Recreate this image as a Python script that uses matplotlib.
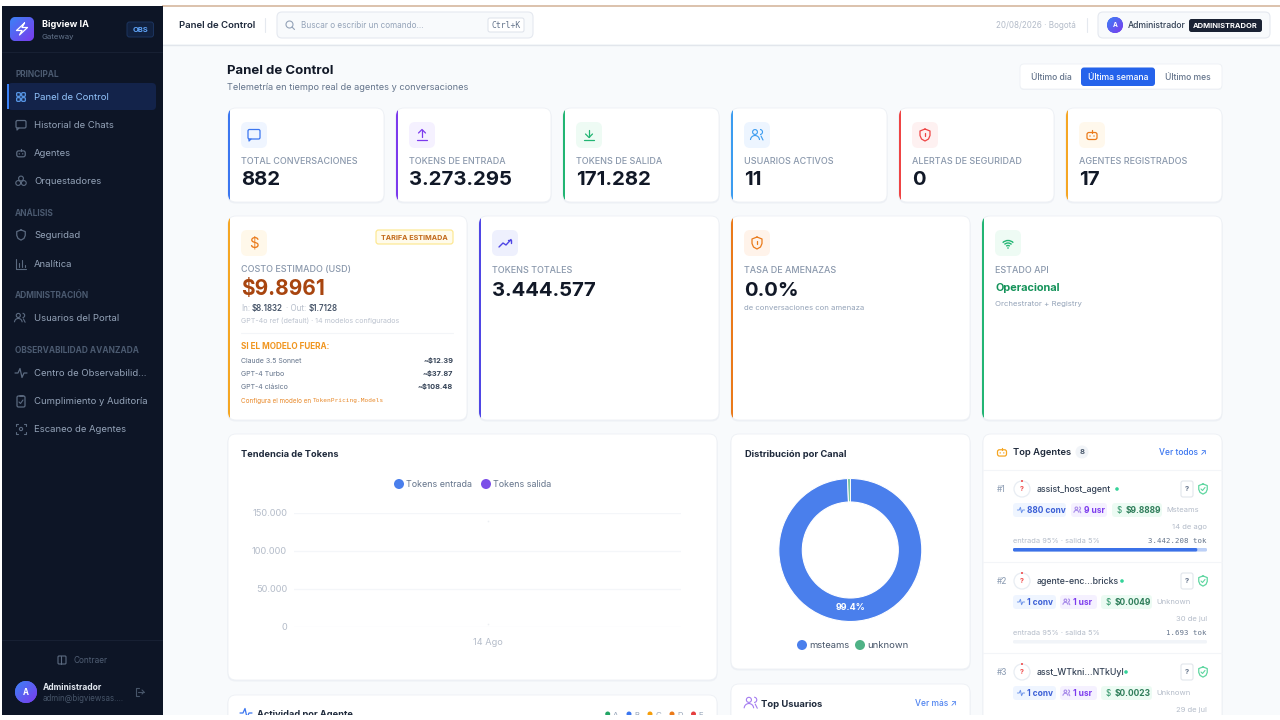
import numpy as np
import matplotlib
matplotlib.use('Agg')
import matplotlib.pyplot as plt
from matplotlib.patches import FancyBboxPatch, Rectangle, Circle, Arc

plt.rcParams['font.family'] = ['Inter', 'DejaVu Sans']

# --- data ---
nav_sections = ['PRINCIPAL', 'ANÁLISIS', 'ADMINISTRACIÓN', 'OBSERVABILIDAD AVANZADA']
nav_items = ['Panel de Control', 'Historial de Chats', 'Agentes', 'Orquestadores', 'Seguridad',
             'Analítica', 'Usuarios del Portal', 'Centro de Observabilid...',
             'Cumplimiento y Auditoría', 'Escaneo de Agentes']
periods = ['Último día', 'Última semana', 'Último mes']

kpi_labels = ['TOTAL CONVERSACIONES', 'TOKENS DE ENTRADA', 'TOKENS DE SALIDA',
              'USUARIOS ACTIVOS', 'ALERTAS DE SEGURIDAD', 'AGENTES REGISTRADOS']
kpi_values = ['882', '3.273.295', '171.282', '11', '0', '17']

model_names = ['Claude 3.5 Sonnet', 'GPT-4 Turbo', 'GPT-4 clásico']
model_costs = ['~$12.39', '~$37.87', '~$108.48']

trend_dates = ['14 Ago']
tokens_in = [139000]
tokens_out = [4000]
trend_ticks = [0, 50000, 100000, 150000]
trend_ticklabels = ['0', '50.000', '100.000', '150.000']

channels = ['msteams', 'unknown']
channel_share = [99.4, 0.6]

agent_names = ['assist_host_agent', 'agente-enc...bricks', 'asst_WTkni...NTkUyI']
agent_conv = ['880 conv', '1 conv', '1 conv']
agent_users = ['9 usr', '1 usr', '1 usr']
agent_cost = ['$9.8889', '$0.0049', '$0.0023']
agent_channel = ['Msteams', 'Unknown', 'Unknown']
agent_dates = ['14 de ago', '30 de jul', '29 de jul']
agent_tokens = [3442208, 1693, 0]
agent_tokens_txt = ['3.442.208 tok', '1.693 tok', '']
agent_in_share = [0.95, 0.95, 0.95]

activity_keys = ['A', 'B', 'C', 'D', 'E']

# --- colours ---
BLUE = '#3b76f0'
PURPLE = '#7c3aed'
GREEN = '#22b573'
ORANGE = '#ea7a1a'
AMBER = '#f5a623'
RED = '#ef4444'
INK = '#111827'
SLATE = '#64748b'
MUTED = '#94a3b8'
FAINT = '#b4bcc9'
EDGE = '#edf0f5'
LABEL = '#8a98ac'

fig = plt.figure(figsize=(12.8, 7.2), dpi=100, facecolor='white')
ax = fig.add_axes([0, 0, 1, 1])
ax.set_axis_off()


def rbox(x0, y0, x1, y1, r=4, fc='white', ec='none', lw=0.8, z=2):
    p = FancyBboxPatch((x0, y0), x1 - x0, y1 - y0, boxstyle=f'round,pad=0,rounding_size={r}',
                       fc=fc, ec=ec, lw=lw, zorder=z)
    ax.add_patch(p)
    return p


def txt(x, y, s, px=10, c=INK, w='normal', ha='left', fam=None, z=6):
    kw = {'family': fam} if fam else {}
    # text sat a little high with va=center, nudge by size
    return ax.text(x, y + 0.4 + 0.06 * px, s, fontsize=px * 0.72, color=c, fontweight=w, ha=ha,
                   va='center', zorder=z, **kw)


def line(xs, ys, c, lw=1.0, z=6):
    ax.plot(xs, ys, color=c, lw=lw, solid_capstyle='round', solid_joinstyle='round', zorder=z)


def dot(x, y, r, c, z=6, ec='none', lw=0.8):
    p = Circle((x, y), r, fc=c, ec=ec, lw=lw, zorder=z)
    ax.add_patch(p)
    return p


grad_cmap = matplotlib.colors.LinearSegmentedColormap.from_list('g', ['#3b82f6', '#7c3aed'])


def gradient(x0, y0, x1, y1, clip, z=5):
    g = np.linspace(0, 1, 32)[None, :] + np.linspace(0, 1, 32)[:, None]
    im = ax.imshow(g, extent=(x0, x1, y1, y0), cmap=grad_cmap, aspect='auto', zorder=z)
    im.set_clip_path(clip)


def card(x0, y0, x1, y1, accent=None, r=8):
    rbox(x0 - 0.5, y0 + 1.0, x1 + 0.5, y1 + 1.5, r, fc='#eef1f5', z=1.5)
    p = rbox(x0, y0, x1, y1, r, fc='white', ec=EDGE, lw=0.6)
    if accent:
        s = Rectangle((x0, y0), 2.2, y1 - y0, fc=accent, ec='none', zorder=3)
        ax.add_patch(s)
        s.set_clip_path(p)
    return p


# small line icons, cx/cy is the middle
def ic_chat(x, y, c, s=6):
    rbox(x - s, y - s + 0.5, x + s, y + s - 2, 1.5, fc='none', ec=c, lw=0.9, z=6)
    line([x - s + 1, x - s + 1, x - s + 3], [y + s - 2, y + s, y + s - 2], c, 0.9)


def ic_up(x, y, c):
    line([x, x], [y - 5, y + 2], c, 0.9)
    line([x - 3.5, x, x + 3.5], [y - 2, y - 5.5, y - 2], c, 0.9)
    line([x - 5, x + 5], [y + 5, y + 5], c, 0.9)


def ic_down(x, y, c):
    line([x, x], [y - 5.5, y + 2], c, 0.9)
    line([x - 3.5, x, x + 3.5], [y - 1, y + 2.5, y - 1], c, 0.9)
    line([x - 5, x + 5], [y + 5, y + 5], c, 0.9)


def ic_users(x, y, c, s=1.0):
    ax.add_patch(Circle((x - 2 * s, y - 3 * s), 2.4 * s, fc='none', ec=c, lw=0.8, zorder=6))
    ax.add_patch(Arc((x - 2 * s, y + 5 * s), 9 * s, 9 * s, theta1=180, theta2=360, ec=c, lw=0.8, zorder=6))
    ax.add_patch(Arc((x + 3 * s, y - 3 * s), 5 * s, 5 * s, theta1=-90, theta2=90, ec=c, lw=0.8, zorder=6))
    line([x + 4 * s, x + 6 * s], [y + 1 * s, y + 5 * s], c, 0.8)


def ic_shield(x, y, c, s=1.0, mark='!'):
    xs = np.array([0, 5, 5, 3.5, 0, -3.5, -5, -5, 0]) * s + x
    ys = np.array([-6, -4, 0.5, 4, 6, 4, 0.5, -4, -6]) * s + y
    line(xs, ys, c, 0.9)
    if mark == '!':
        line([x, x], [y - 2.5, y + 0.5], c, 0.9)
        line([x, x], [y + 2.5, y + 2.6], c, 0.9)
    elif mark == 'check':
        line([x - 2, x - 0.5, x + 2], [y, y + 1.5, y - 1.5], c, 0.8)


def ic_robot(x, y, c, s=1.0):
    rbox(x - 5 * s, y - 2.5 * s, x + 5 * s, y + 4.5 * s, 2, fc='none', ec=c, lw=0.9, z=6)
    line([x, x], [y - 5 * s, y - 2.5 * s], c, 0.9)
    dot(x - 2 * s, y + 1 * s, 0.7, c)
    dot(x + 2 * s, y + 1 * s, 0.7, c)


def ic_trend(x, y, c):
    line([x - 6, x - 2, x + 1, x + 6], [y + 4, y, y + 2, y - 3.5], c, 1.0)
    line([x + 2.5, x + 6, x + 6], [y - 3.5, y - 3.5, y], c, 1.0)


def ic_wifi(x, y, c):
    for d in [5, 10, 15]:
        ax.add_patch(Arc((x, y + 5), d, d, theta1=225, theta2=315, ec=c, lw=1.0, zorder=6))
    dot(x, y + 5, 0.8, c)


def ic_pulse(x, y, c, lw=0.9, s=1.0):
    line([x - 6 * s, x - 3 * s, x - 1 * s, x + 1 * s, x + 3 * s, x + 6 * s],
         [y, y, y - 4.5 * s, y + 4.5 * s, y, y], c, lw)


# --- page background ---
ax.add_patch(Rectangle((162, 44), 1118, 676, fc='#f8fafc', ec='none', zorder=0))
ax.add_patch(Rectangle((162, 7), 1118, 37, fc='white', ec='none', zorder=0.5))
line([162, 1280], [44.5, 44.5], '#e2e6ec', 1.0, z=1)
ax.add_patch(Rectangle((162, 5.2), 1118, 1.6, fc='#dcc3ae', ec='none', zorder=1))

# --- sidebar ---
ax.add_patch(Rectangle((2, 6), 160.5, 709, fc='#0d1526', ec='none', zorder=1))
line([2, 162], [52, 52], '#172033', 0.8, z=1.5)
line([2, 162], [640, 640], '#172033', 0.8, z=1.5)
logo = rbox(10, 17, 34, 41, 6, fc='#4f63f0', z=3)
gradient(10, 17, 34, 41, logo)
line([24.5, 16.5, 22, 19.5, 27.5, 22, 24.5], [23, 30.5, 30.5, 35, 27.5, 27.5, 23], 'white', 0.9)
txt(42, 24, 'Bigview IA', 9.1, 'white', 'bold')
txt(42, 36, 'Gateway', 7.8, '#64748b')
rbox(127, 22, 153.5, 37, 2.5, fc='#11213f', ec='#1c345f', lw=0.7, z=3)
txt(140.3, 29, 'OBS', 7.5, '#60a5fa', 'bold', 'center')

section_y = [74, 213, 295, 350]
for s, y in zip(nav_sections, section_y):
    txt(15, y, s, 8.3, '#4b5a70', 'bold')

nav_y = [97, 125, 153, 181, 235, 264, 318, 373, 401, 429]
rbox(8, 83, 156, 110, 4, fc='#13234a', z=2)
ax.add_patch(Rectangle((7, 84), 2, 25, fc='#3b82f6', ec='none', zorder=3))
for i, (s, y) in enumerate(zip(nav_items, nav_y)):
    txt(34, y, s, 9.5, '#93c5fd' if i == 0 else '#94a3b8')

ic = '#5b6a80'
for dx in (-2.5, 2.5):
    for dy in (-2.5, 2.5):
        rbox(21 + dx - 1.8, 97 + dy - 1.8, 21 + dx + 1.8, 97 + dy + 1.8, 0.8, fc='none', ec='#60a5fa', lw=0.8, z=6)
ic_chat(21, 125, ic, 5)
ic_robot(21, 153, ic, 0.85)
for dx, dy in [(0, -2.5), (-2.8, 2), (2.8, 2)]:
    dot(21 + dx, 181 + dy, 2.4, 'none', ec=ic, lw=0.8)
ic_shield(21, 235, ic, 0.85, '')
line([16, 16, 26], [259, 269, 269], ic, 0.8)
for bx, by in zip([19, 22, 25], [263, 260, 265]):
    line([bx, bx], [by, 267], ic, 0.8)
ic_users(20, 318, ic, 0.85)
ic_pulse(21, 373, ic)
rbox(17, 396, 25, 407, 1.5, fc='none', ec=ic, lw=0.9, z=6)
line([19.5, 22.5], [395.5, 395.5], ic, 1.3)
line([19, 20.5, 23], [402, 403.5, 400], ic, 0.8)
dot(21, 429, 1.6, 'none', ec=ic, lw=0.8)
for sx, sy in [(-1, -1), (1, -1), (-1, 1), (1, 1)]:
    line([21 + sx * 5, 21 + sx * 5, 21 + sx * 3], [429 + sy * 3, 429 + sy * 5, 429 + sy * 5], ic, 0.8)

rbox(58, 656, 66, 664, 1, fc='none', ec='#5b6a80', lw=0.8, z=6)
line([60.6, 60.6], [656, 664], '#5b6a80', 0.8)
txt(73, 660, 'Contraer', 8.3, '#4f5d73')
av = dot(26, 692, 11, '#5a5ff0', z=3)
gradient(15, 681, 37, 703, av)
txt(26, 691.5, 'A', 8, 'white', 'bold', 'center')
txt(43, 687, 'Administrador', 8.4, '#e2e8f0', 'bold')
txt(43, 698, 'admin@bigviewsas....', 7.9, '#475569')
line([139, 136, 136, 139], [688, 688, 696, 696], '#475569', 0.8)
line([138, 144], [692, 692], '#475569', 0.8)
line([142, 144, 142], [690, 692, 694], '#475569', 0.8)

# --- top bar ---
txt(179, 25, 'Panel de Control', 9.6, '#1e293b', 'semibold')
line([265, 265], [18, 32], '#e5e9ef', 0.8)
rbox(277, 12, 533, 38, 5, fc='#f8fafc', ec='#e5e9f0', lw=0.8)
dot(289.5, 24.5, 3.5, 'none', ec=MUTED, lw=0.8)
line([292, 294.5], [27, 29.5], MUTED, 0.8)
txt(301, 25, 'Buscar o escribir un comando...', 8.15, MUTED)
rbox(488, 18, 524, 32, 2, fc='white', ec='#dde2ea', lw=0.7)
txt(506, 24.5, 'Ctrl+K', 8.2, SLATE, fam='DejaVu Sans Mono', ha='center')
txt(1076, 25, '20/08/2026 · Bogotá', 8.1, FAINT, ha='right')
line([1087, 1087], [18, 32], '#e5e9ef', 0.8)
rbox(1098, 12, 1270, 38, 5, fc='#f8fafc', ec='#e5e9f0', lw=0.8)
av2 = dot(1115, 25, 8, '#5a5ff0', z=3)
gradient(1107, 17, 1123, 33, av2)
txt(1115, 24.5, 'A', 6.5, 'white', 'bold', 'center')
txt(1128, 25, 'Administrador', 8.6, '#334155', 'medium')
rbox(1189, 19, 1262, 32, 2.5, fc='#1a2233')
txt(1225.5, 25, 'ADMINISTRADOR', 7.5, 'white', 'bold', 'center')

# --- page title ---
txt(227, 70, 'Panel de Control', 13.2, INK, 'bold')
txt(227, 87, 'Telemetría en tiempo real de agentes y conversaciones', 9.2, SLATE)
rbox(1020, 65, 1222, 90, 4, fc='#eef1f5', z=1.5)
rbox(1020, 64, 1222, 89, 4, fc='white', ec=EDGE, lw=0.6)
rbox(1081, 67.5, 1155, 86, 3, fc='#2563eb', z=3)
for s, x, col in zip(periods, [1051, 1118, 1188], ['#64748b', 'white', '#64748b']):
    txt(x, 76.5, s, 8.6, col, 'medium', 'center')

# --- KPI row ---
kpi_x0 = [228, 396, 563, 731, 899, 1066]
kpi_x1 = [384, 551, 719, 887, 1054, 1222]
kpi_col = [BLUE, PURPLE, GREEN, '#3b9cf0', RED, AMBER]
kpi_tint = ['#eff5ff', '#f5f1ff', '#eefbf4', '#edf5ff', '#fef1f1', '#fff8ec']
kpi_icons = [lambda x, y, c: ic_chat(x, y, c), ic_up, ic_down, ic_users,
             lambda x, y, c: ic_shield(x, y, c), ic_robot]
for i in range(6):
    x0 = kpi_x0[i]
    card(x0, 108, kpi_x1[i], 202, kpi_col[i])
    rbox(x0 + 13, 122, x0 + 39, 148, 6, fc=kpi_tint[i], z=3)
    kpi_icons[i](x0 + 26, 135, kpi_col[i] if i != 5 else ORANGE)
    txt(x0 + 13, 160.5, kpi_labels[i], 9, LABEL, 'medium')
    txt(x0 + 13, 178.5, kpi_values[i], 20.3, INK, 'bold')

# --- second row ---
card(228, 216, 467, 420, AMBER)
card(479, 216, 719, 420, '#4f46e5')
card(731, 216, 970, 420, ORANGE)
card(982, 216, 1222, 420, GREEN)

rbox(241, 230, 267, 256, 6, fc='#fff8ea', z=3)
txt(254, 242, '$', 15, ORANGE, 'normal', 'center')
rbox(376, 230, 453, 244, 2.5, fc='#fffbeb', ec='#fde68a', lw=0.8, z=3)
txt(414.5, 237, 'TARIFA ESTIMADA', 7.2, '#c2691a', 'bold', 'center')
txt(241, 269, 'COSTO ESTIMADO (USD)', 9, LABEL, 'medium')
txt(241, 287, '$9.8961', 20.8, '#a8450f', 'bold')
txt(241, 308, 'In:', 8, FAINT)
txt(252, 308, '$8.1832', 8, '#475569', 'semibold')
txt(285.5, 308, '· Out:', 8, FAINT)
txt(309, 308, '$1.7128', 8, '#475569', 'semibold')
txt(241, 320, 'GPT-4o ref (default) · 14 modelos configurados', 7.1, '#bcc3cf')
line([241, 453], [333, 333], '#f3f5f8', 0.8)
txt(241, 346, 'SI EL MODELO FUERA:', 8.2, '#f0951f', 'bold')
for s, v, y in zip(model_names, model_costs, [360, 373, 386]):
    txt(241, y, s, 7.0, '#64748b')
    txt(453, y, v, 7.4, '#334155', 'bold', 'right')
txt(241, 400, 'Configura el modelo en', 6.4, '#e8892a')
txt(313, 400, 'TokenPricing.Models', 6.1, '#e8892a', fam='DejaVu Sans Mono')

rbox(492, 230, 518, 256, 6, fc='#eef0fd', z=3)
ic_trend(505, 243, '#4f46e5')
txt(492, 270, 'TOKENS TOTALES', 9, LABEL, 'medium')
txt(492, 289, '3.444.577', 20.3, INK, 'bold')

rbox(744, 230, 770, 256, 6, fc='#fff3ea', z=3)
ic_shield(757, 243, ORANGE)
txt(744, 270, 'TASA DE AMENAZAS', 9, LABEL, 'medium')
txt(744, 289, '0.0%', 20.3, INK, 'bold')
txt(744, 307, 'de conversaciones con amenaza', 7.7, MUTED)

rbox(995, 230, 1021, 256, 6, fc='#eefbf4', z=3)
ic_wifi(1008, 243, GREEN)
txt(995, 270, 'ESTADO API', 9, LABEL, 'medium')
txt(995, 287, 'Operacional', 11, '#15935a', 'bold')
txt(995, 303, 'Orchestrator + Registry', 7.8, MUTED)

# --- trend chart ---
card(228, 434, 717, 680)
txt(241, 454, 'Tendencia de Tokens', 9.2, '#1e293b', 'bold')
dot(399, 484, 5, '#4a7fec')
txt(406, 484, 'Tokens entrada', 8.9, SLATE)
dot(486, 484, 5, '#7c4fe8')
txt(493, 484, 'Tokens salida', 8.9, SLATE)

tx = fig.add_axes([294 / 1280, 1 - 627 / 720, 387 / 1280, 114 / 720], facecolor='none')
tx.set_zorder(5)
tx.scatter([0], tokens_in, s=1.5, color='#eceff3', lw=0)
tx.scatter([0], tokens_out, s=1.5, color='#eceff3', lw=0)
tx.set_xlim(-0.5, 0.5)
tx.set_ylim(trend_ticks[0], trend_ticks[-1])
tx.set_yticks(trend_ticks)
tx.set_yticklabels(trend_ticklabels, fontsize=9.2 * 0.72, color=FAINT)
tx.set_xticks([0])
tx.set_xticklabels(trend_dates, fontsize=9.2 * 0.72, color=FAINT)
tx.tick_params(length=0, pad=5)
tx.tick_params(axis='x', pad=8)
tx.grid(axis='y', color='#f4f6f9', lw=0.9)
tx.set_axisbelow(True)
for sp in tx.spines.values():
    sp.set_visible(False)
for c in tx.collections:
    c.set_clip_on(False)

# --- channel donut ---
card(731, 434, 970, 669)
txt(745, 454, 'Distribución por Canal', 9.3, '#1e293b', 'bold')
R = 71.5
px = fig.add_axes([(850.3 - R) / 1280, 1 - (550 + R) / 720, 2 * R / 1280, 2 * R / 720], facecolor='none')
px.set_zorder(5)
px.pie(channel_share, colors=['#4a7fec', '#4fb286'], startangle=90, counterclock=False, radius=1.0,
       wedgeprops={'width': 23.5 / R, 'edgecolor': 'white', 'linewidth': 0.8})
px.set_xlim(-1, 1)
px.set_ylim(-1, 1)
# label has to sit above the pie axes, so it goes on the pie axes itself
px.text(0.01, -0.8, f'{channel_share[0]}%', fontsize=9 * 0.72, color='white', fontweight='bold',
        ha='center', va='center')
dot(802, 645, 5, '#4a7fec')
txt(809, 645, channels[0], 9.4, '#475569')
dot(860, 645, 5, '#4fb286')
txt(867, 645, channels[1], 9.4, '#475569')

# --- cards cut by the bottom edge ---
card(228, 695, 717, 760)
ic_pulse(246, 713, BLUE)
txt(257, 714, 'Actividad por Agente', 9.2, '#1e293b', 'bold')
for k, x, c in zip(activity_keys, [607.7, 629, 650, 672, 693.5],
                   ['#22a565', '#3b76f0', '#f59e0b', '#ea7a1a', '#e53e3e']):
    dot(x, 714, 2.5, c)
    txt(x + 5, 714, k, 7.8, MUTED)

card(731, 684, 970, 760)
ic_users(751, 703, '#a47cf0', 1.05)
txt(761, 703.5, 'Top Usuarios', 9.4, '#1e293b', 'bold')
txt(915, 703, 'Ver más ↗', 8.4, '#4f83f0', 'medium')

# --- top agents ---
card(983, 434, 1222, 760)
ic_robot(1002, 452, AMBER, 0.9)
txt(1013, 452, 'Top Agentes', 9.4, '#1e293b', 'semibold')
dot(1082, 452, 6.5, '#f1f4f8')
txt(1082, 451.5, '8', 7.6, '#475569', 'bold', 'center')
txt(1207, 451.5, 'Ver todos ↗', 8.4, '#3b76f0', 'medium', 'right')
line([983, 1222], [470, 470], '#f3f5f8', 0.8)
line([983, 1222], [562, 562], '#f3f5f8', 0.8)
line([983, 1222], [653, 653], '#f3f5f8', 0.8)

row_y = [489, 581, 672]
chip_x = [[1013, 1066, 1071, 1107, 1112, 1162],
          [1013, 1056, 1060, 1097, 1101, 1152],
          [1013, 1056, 1060, 1097, 1101, 1152]]
name_dot_x = [1117, 1122, 1126]
token_max = max(agent_tokens)
for i, y in enumerate(row_y):
    txt(997, y, f'#{i + 1}', 8.2, MUTED, 'medium')
    dot(1022, y, 8, 'white', ec='#e8edf3', lw=0.9)
    dot(1022, y - 8, 1.0, RED, z=7)
    txt(1022, y - 0.5, '?', 7, RED, 'bold', 'center')
    txt(1037, y, agent_names[i], 8.8, '#334155', 'medium')
    dot(name_dot_x[i], y, 1.8, '#34d399')
    rbox(1181, y - 8, 1193, y + 8, 2, fc='white', ec='#e2e6ec', lw=0.8)
    txt(1187, y - 0.5, '?', 7.5, SLATE, 'bold', 'center')
    ic_shield(1203, y, '#5ed6a0', 0.85, 'check')

    cy = y + 21
    cx = chip_x[i]
    rbox(cx[0], cy - 7, cx[1], cy + 7, 3.5, fc='#eff5ff', z=3)
    rbox(cx[2], cy - 7, cx[3], cy + 7, 3.5, fc='#f5f1ff', z=3)
    rbox(cx[4], cy - 7, cx[5], cy + 7, 3.5, fc='#ecfbf3', z=3)
    ic_pulse(cx[0] + 8, cy, '#6d94ea', 0.7, 0.6)
    txt(cx[0] + 14, cy - 0.5, agent_conv[i], 8.4, '#3b5fd6', 'bold')
    ic_users(cx[2] + 6.5, cy, '#a98cea', 0.55)
    txt(cx[2] + 13, cy - 0.5, agent_users[i], 8.4, '#7c3aed', 'bold')
    txt(cx[4] + 7, cy - 0.5, '$', 8, '#3f9c72', 'medium', 'center')
    txt(cx[4] + 14, cy - 0.5, agent_cost[i], 8.4, '#2f7d5a', 'bold')
    txt(cx[5] + 4, cy - 0.5, agent_channel[i], 7.6, FAINT)
    txt(1207, y + 37.5, agent_dates[i], 7.6, FAINT, ha='right')
    if agent_tokens_txt[i]:
        txt(1013, y + 51.5, 'entrada 95% · salida 5%', 7.4, FAINT)
        txt(1207, y + 51.5, agent_tokens_txt[i], 7.4, '#64748b', ha='right', fam='DejaVu Sans Mono')
        by = y + 59
        full = 194
        rbox(1013, by, 1207, by + 3.5, 1.5, fc='#f1f4f8', z=3)
        w = full * agent_tokens[i] / token_max
        if w > 1:
            rbox(1013, by, 1013 + w, by + 3.5, 1.5, fc='#bcd0f7', z=3.2)
            rbox(1013, by, 1013 + w * agent_in_share[i], by + 3.5, 1.5, fc='#3b71e8', z=3.4)

# bottom and left edge of the screenshot
ax.add_patch(Rectangle((0, 715), 1280, 5, fc='white', ec='none', zorder=20))
ax.add_patch(Rectangle((0, 0), 2, 720, fc='white', ec='none', zorder=20))

ax.set_xlim(0, 1280)
ax.set_ylim(720, 0)
fig.savefig('out.png', dpi=100)
